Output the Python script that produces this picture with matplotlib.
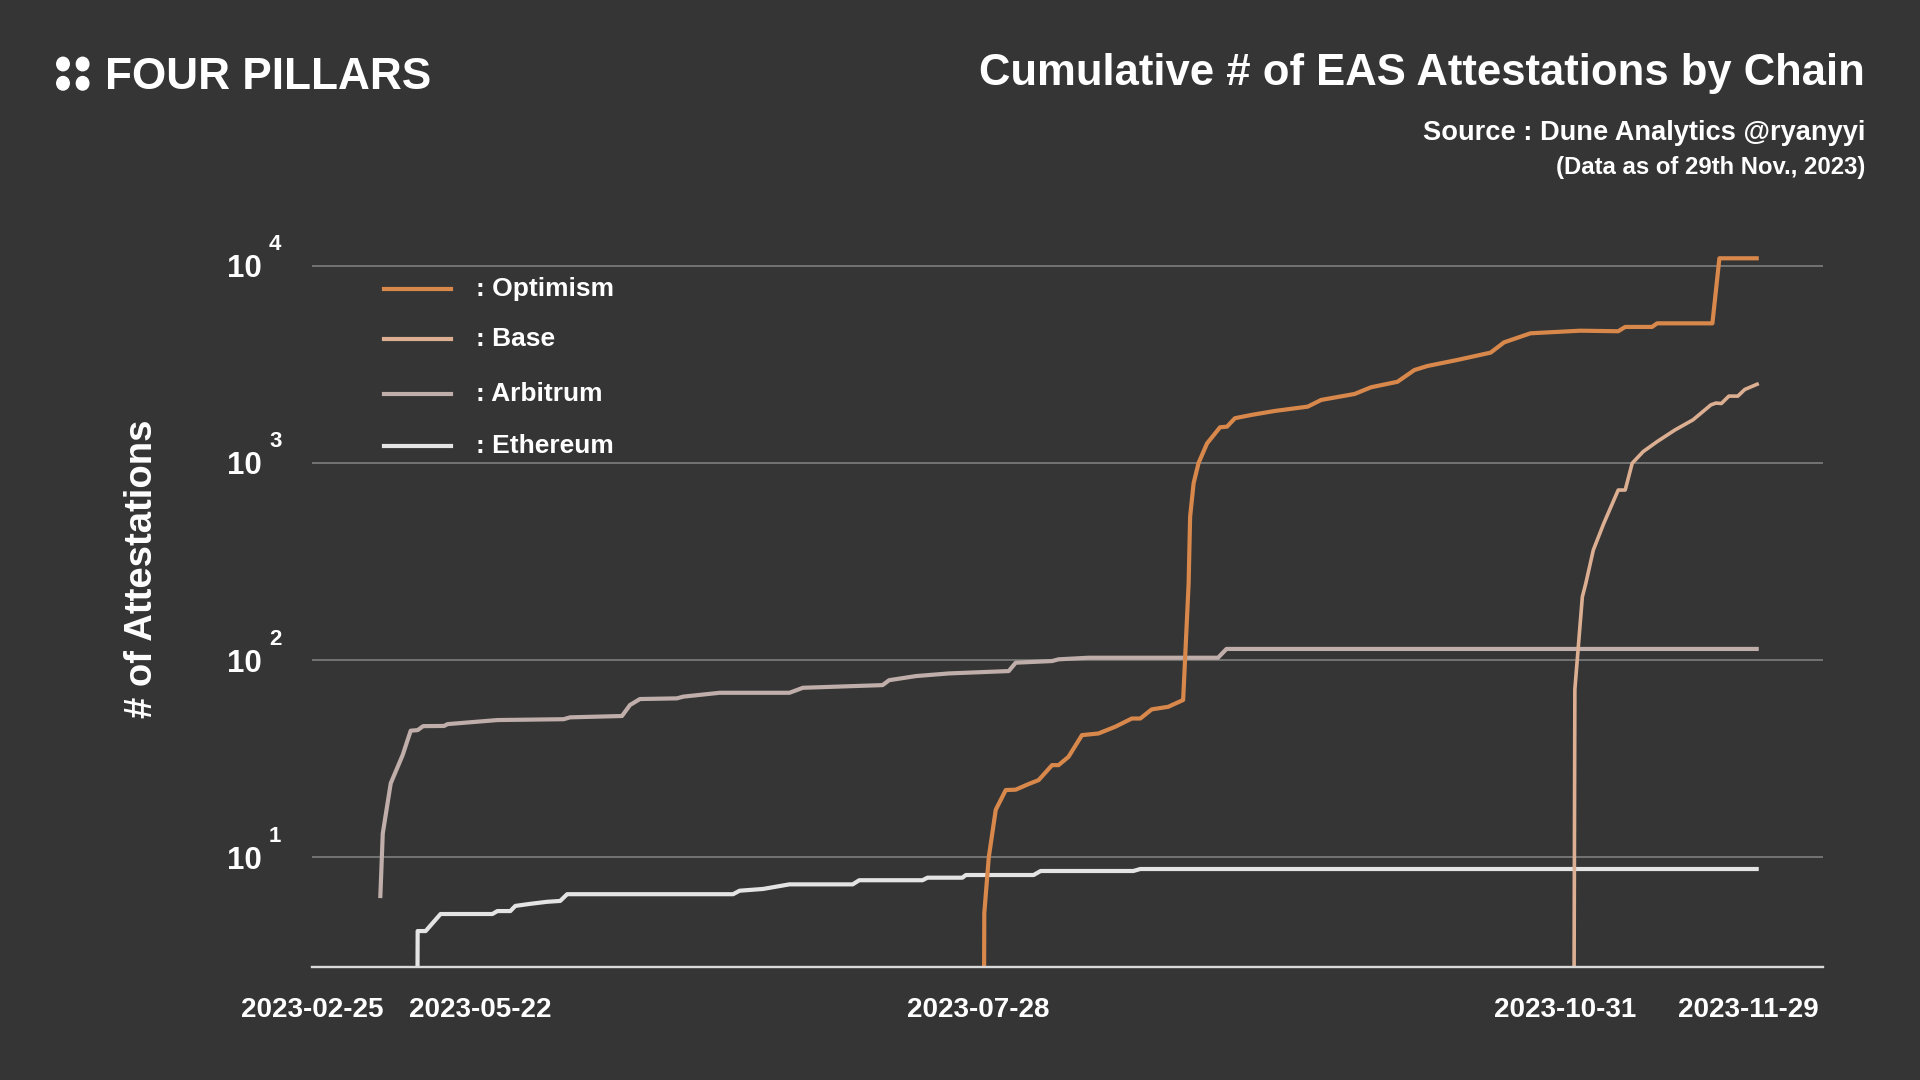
import matplotlib
matplotlib.use("Agg")
import math
import matplotlib.pyplot as plt
from matplotlib.patches import Ellipse
from matplotlib.lines import Line2D
from matplotlib.ticker import NullLocator
import matplotlib.transforms as mtransforms

# ---------------- data ----------------
series_names = ["Optimism", "Base", "Arbitrum", "Ethereum"]
series_colors = ["#D9884C", "#DDAF92", "#BFAEAA", "#E4E4E4"]

# x is a positional index along the chart (not linear in calendar days)
op_t = [121.1, 121.2, 122.1, 123.5, 125.5, 127.5, 130.1, 132.1, 134.8, 136.1,
        138.1, 140.8, 144.1, 147.5, 150.8, 152.5, 154.8, 158.1, 161.1, 162.2,
        162.5, 163.2, 164.2, 165.9, 168.5, 169.9, 171.5, 174.8, 179.5, 186.1,
        188.8, 195.5, 198.8, 204.1, 207.5, 210.1, 216.1, 222.8, 225.5, 230.8,
        240.8, 248.4, 249.8, 255.2, 256.2, 267.3, 268.7, 276.6]
op_v = [1, 5.2, 10, 17.4, 21.9, 22, 23.5, 24.6, 29.3, 29.3,
        32.3, 41.6, 42.4, 45.9, 50.5, 50.5, 56.2, 57.9, 62.7, 245,
        533, 788, 1000, 1255, 1515, 1526, 1684, 1750, 1833, 1928,
        2085, 2235, 2417, 2577, 2956, 3098, 3325, 3623, 4085, 4540,
        4680, 4650, 4890, 4890, 5100, 5100, 10900, 10900]

base_t = [239.5, 239.7, 241.2, 241.9, 243.4, 245.5, 248.4, 249.8, 251.2, 253.4,
          256.2, 259.8, 263.4, 267.0, 268.0, 269.1, 270.6, 272.4, 273.8, 276.6]
base_v = [1, 71, 209, 245, 361, 493, 728, 728, 995, 1140,
          1281, 1469, 1652, 1968, 2010, 2000, 2180, 2180, 2356, 2525]

arb_t = [0, 0.5, 2.1, 4.5, 6.1, 7.5, 8.6, 12.8, 13.5, 23.5,
         36.8, 38.1, 48.5, 50.1, 52.1, 59.5, 60.8, 68.1, 82.1, 84.8,
         100.8, 102.1, 107.5, 114.1, 126.1, 127.5, 134.8, 136.1, 142.1, 168.1,
         169.8, 276.6]
arb_v = [6.2, 13.2, 23.7, 33, 43.8, 44.1, 46.2, 46.3, 47.3, 49.6,
         50.1, 51.2, 52, 59.1, 63.4, 63.9, 65.2, 68.2, 68.2, 72.3,
         74.6, 79, 82.9, 85.5, 87.9, 96.9, 98.8, 100.8, 102.7, 102.7,
         113.8, 113.8]

eth_t = [7.4, 7.5, 9.1, 12.1, 22.5, 23.5, 26.1, 27.1, 30.1, 33.5,
         36.1, 37.5, 70.8, 72.1, 76.8, 82.1, 94.8, 96.1, 108.8, 109.8,
         116.8, 117.5, 131.1, 132.5, 151.1, 152.5, 276.6]
eth_v = [1, 4.22, 4.22, 5.15, 5.15, 5.33, 5.33, 5.66, 5.8, 5.94,
         6.0, 6.49, 6.49, 6.76, 6.9, 7.28, 7.28, 7.64, 7.64, 7.87,
         7.87, 8.12, 8.12, 8.51, 8.51, 8.71, 8.71]

xtick_pos = [-13.7, 20.1, 120.0, 237.8, 274.5]
xtick_labels = ["2023-02-25", "2023-05-22", "2023-07-28", "2023-10-31", "2023-11-29"]
ytick_values = [10, 100, 1000, 10000]

title = "Cumulative # of EAS Attestations by Chain"
source = "Source : Dune Analytics @ryanyyi"
asof = "(Data as of 29th Nov., 2023)"
brand = "FOUR PILLARS"
ylabel = "# of Attestations"

# ---------------- style ----------------
W, H, DPI = 1920, 1080, 100
BG = "#353535"
plt.rcParams['font.family'] = ["Liberation Sans", "DejaVu Sans"]
plt.rcParams['font.weight'] = 'bold'

def fx(px):
    return px / W

def fy(py):
    return 1 - py / H

fig = plt.figure(figsize=(W / DPI, H / DPI), dpi=DPI, facecolor=BG)
ax_left, ax_right, ax_top, ax_bot = 312, 1823, 236.1, 967.4
ax = fig.add_axes([fx(ax_left), fy(ax_bot), (ax_right - ax_left) / W, (ax_bot - ax_top) / H])
ax.set_facecolor(BG)
ax.set_yscale('log')
ax.set_ylim(10 ** 0.441, 10 ** 4.15)
ax.set_xlim(-11.97, 289.49)

data = {
    "Optimism": (op_t, op_v),
    "Base": (base_t, base_v),
    "Arbitrum": (arb_t, arb_v),
    "Ethereum": (eth_t, eth_v),
}
zorders = {"Ethereum": 3, "Arbitrum": 4, "Base": 5, "Optimism": 6}
widths = {"Ethereum": 3.0, "Arbitrum": 3.0, "Base": 2.6, "Optimism": 3.0}
for name, color in zip(series_names, series_colors):
    t, v = data[name]
    ax.plot(t, v, color=color, lw=widths[name], zorder=zorders[name],
            solid_joinstyle='round', solid_capstyle='butt')

# grid and spines
ax.yaxis.grid(True, color="#737373", lw=1.4, zorder=1)
ax.xaxis.grid(False)
ax.set_axisbelow(True)
for s in ["top", "right", "left"]:
    ax.spines[s].set_visible(False)
ax.spines["bottom"].set_color("#DADADA")
ax.spines["bottom"].set_linewidth(1.7)
ax.spines["bottom"].set_zorder(7)

# y ticks: "10" with separate exponent
ax.set_yticks(ytick_values)
ax.set_yticklabels(["10" for _ in ytick_values])
ax.yaxis.set_minor_locator(NullLocator())
ax.tick_params(axis='y', length=0, pad=36, labelsize=22.5, labelcolor="white")
for lab in ax.get_yticklabels():
    lab.set_fontweight('bold')
blend = mtransforms.blended_transform_factory(fig.transFigure, ax.transData)
raise_tr = mtransforms.ScaledTranslation(0, 21 / DPI, fig.dpi_scale_trans)
for v in ytick_values:
    ax.text(fx(269), v, str(int(round(math.log10(v)))), transform=blend + raise_tr,
            ha='left', va='center', fontsize=16, color='white', fontweight='bold')

# x ticks
ax.set_xticks(xtick_pos)
ax.set_xticklabels(xtick_labels)
ax.xaxis.set_minor_locator(NullLocator())
ax.tick_params(axis='x', length=0, pad=21, labelsize=20, labelcolor="white")
for lab in ax.get_xticklabels():
    lab.set_fontweight('bold')

# y label
fig.text(fx(142), fy(569), ylabel, rotation=90, ha='center', va='center',
         fontsize=27.5, color='white', fontweight='bold')

# legend (manual)
legend_y = [289, 339, 394, 446]
for (name, color), ly in zip(zip(series_names, series_colors), legend_y):
    fig.add_artist(Line2D([fx(384), fx(451)], [fy(ly), fy(ly)], color=color,
                          lw=3.0, transform=fig.transFigure))
    fig.text(fx(476), fy(ly), ": " + name, ha='left', va='center',
             fontsize=19, color='white', fontweight='bold')

# header
for cx in (63, 82.6):
    for cy in (64, 83.3):
        fig.add_artist(Ellipse((fx(cx), fy(cy)), width=12.5 / W, height=13.5 / H,
                               transform=fig.transFigure, color='white'))
fig.text(fx(105), fy(89.4), brand, ha='left', va='baseline', fontsize=31.8,
         color='white', fontweight='bold')
fig.text(fx(1865), fy(85.5), title, ha='right', va='baseline', fontsize=31.4,
         color='white', fontweight='bold')
fig.text(fx(1865), fy(139.5), source, ha='right', va='baseline', fontsize=19.6,
         color='white', fontweight='bold')
fig.text(fx(1865), fy(174), asof, ha='right', va='baseline', fontsize=17.2,
         color='white', fontweight='bold')

fig.savefig("out.png", dpi=DPI, facecolor=BG)
